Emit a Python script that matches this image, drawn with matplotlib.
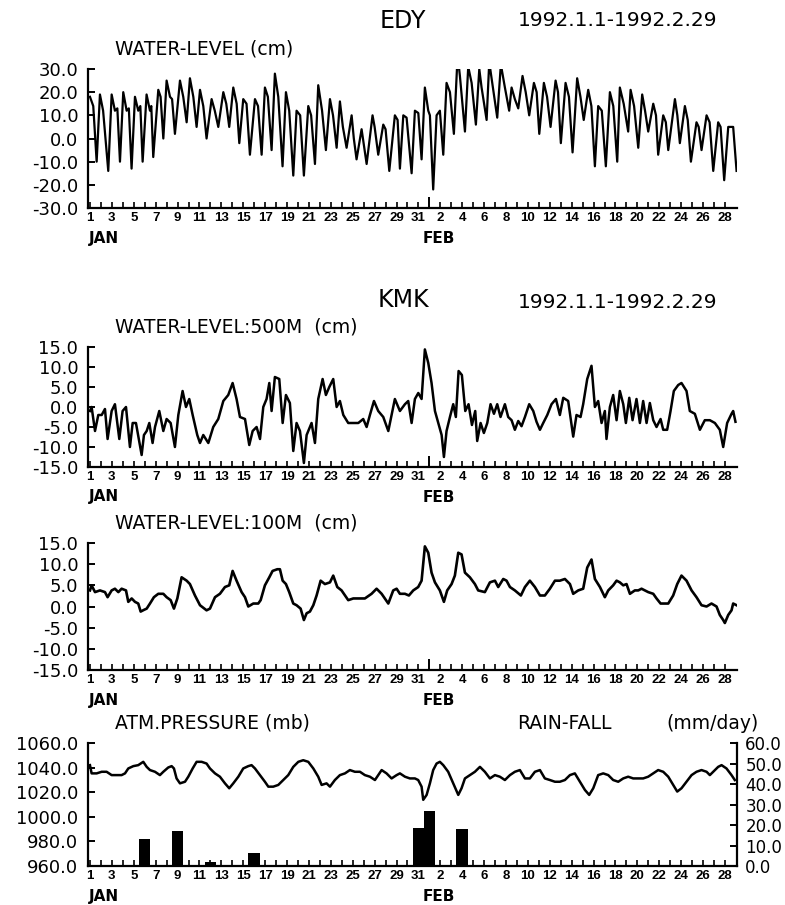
import numpy as np
import matplotlib
matplotlib.use("Agg")
import matplotlib.pyplot as plt
from matplotlib import font_manager
from matplotlib.ticker import FormatStrFormatter

W, H = 785, 905
names = {f.name for f in font_manager.fontManager.ttflist}
TICK_FONT = "Liberation Sans Narrow" if "Liberation Sans Narrow" in names else "Liberation Sans"
plt.rcParams['font.family'] = ['DejaVu Sans']

# time axis in days since 1992-01-01 00:00
edy_t = [0.00, 0.30, 0.61, 0.91, 1.20, 1.67, 1.98, 2.28, 2.50, 2.74, 3.04, 3.35, 3.55, 3.80,
         4.11, 4.41, 4.60, 4.81, 5.17, 5.48, 5.60, 5.78, 6.24, 6.45, 6.70, 7.00, 7.31, 7.50,
         7.76, 8.22, 8.52, 8.83, 9.13, 9.44, 9.74, 10.05, 10.35, 10.65, 11.11, 11.40, 11.72,
         12.18, 12.45, 12.72, 13.09, 13.40, 13.64, 14.00, 14.30, 14.61, 15.07, 15.35, 15.68,
         15.98, 16.25, 16.59, 16.89, 17.20, 17.59, 17.90, 18.20, 18.57, 18.87, 19.20, 19.54,
         19.94, 20.20, 20.55, 20.85, 21.20, 21.55, 21.92, 22.20, 22.53, 22.83, 23.10, 23.44,
         23.90, 24.10, 24.35, 24.81, 25.27, 25.81, 26.00, 26.33, 26.79, 27.00, 27.34, 27.85,
         28.10, 28.31, 28.62, 28.92, 29.38, 29.68, 29.99, 30.29, 30.59, 30.90, 31.05, 31.35,
         31.66, 31.96, 32.27, 32.57, 32.88, 33.24, 33.58, 33.79, 34.25, 34.55, 34.86, 35.25,
         35.56, 35.77, 36.23, 36.47, 36.80, 37.20, 37.53, 37.90, 38.29, 38.51, 38.81, 39.12,
         39.51, 39.80, 40.12, 40.55, 40.80, 41.04, 41.46, 41.75, 42.07, 42.53, 42.75, 43.01,
         43.44, 43.75, 44.08, 44.50, 44.80, 45.10, 45.51, 45.80, 46.12, 46.42, 46.75, 47.12,
         47.49, 47.80, 48.16, 48.40, 48.75, 49.16, 49.38, 49.70, 50.08, 50.44, 50.70, 50.99,
         51.45, 51.70, 51.90, 52.36, 52.60, 52.82, 53.43, 53.65, 53.88, 54.34, 54.60, 54.89,
         55.40, 55.60, 55.86, 56.32, 56.60, 56.93, 57.38, 57.60, 57.93, 58.30, 58.75, 59.06]
edy_cm = [18, 14, -10, 19, 12, -14, 19, 12, 13, -10, 20, 12, 13, -13,
          18, 12, 14, -10, 19, 12, 14, -8, 21, 18, 0, 25, 18, 17,
          2, 25, 18, 7, 26, 18, 5, 21, 14, 0, 17, 12, 5,
          20, 15, 5, 22, 15, -2, 17, 15, -7, 17, 14, -7,
          22, 18, -5, 28, 18, -12, 20, 12, -16, 12, 10, -16,
          14, 10, -11, 23, 12, -5, 17, 10, -4, 16, 5, -4,
          10, 0, -9, 4, -11, 10, 5, -7, 6, 4, -14, 10,
          8, -13, 10, 9, -15, 12, 11, -9, 22, 12, 10, -22,
          10, 12, -7, 24, 20, 2, 36, 27, 3, 31, 24, 6,
          30, 22, 8, 33, 22, 9, 32, 22, 12, 22, 17, 13,
          27, 20, 10, 24, 20, 2, 24, 18, 5, 25, 20, -2,
          24, 18, -6, 26, 18, 8, 21, 14, -12, 14, 12, -12,
          20, 14, -10, 22, 15, 3, 21, 14, -4, 19, 12, 3,
          15, 10, -7, 10, 7, -5, 17, 10, -2, 14, 8, -10,
          7, 5, -5, 10, 7, -14, 7, 5, -18, 5, 5, -14]

kmk500_t = [0.00, 0.15, 0.46, 0.76, 1.07, 1.37, 1.61, 1.98, 2.28, 2.68, 2.98, 3.29, 3.65,
            3.90, 4.20, 4.72, 4.93, 5.18, 5.42, 5.72, 5.94, 6.33, 6.70, 7.00, 7.37, 7.76,
            8.07, 8.46, 8.77, 9.07, 9.38, 9.80, 10.05, 10.35, 10.81, 11.26, 11.72, 12.18,
            12.63, 13.03, 13.39, 13.70, 14.16, 14.55, 14.86, 15.22, 15.53, 15.83, 16.13,
            16.38, 16.59, 16.89, 17.29, 17.60, 17.90, 18.26, 18.57, 18.87, 19.18, 19.54,
            19.79, 20.24, 20.55, 20.85, 21.25, 21.55, 21.86, 22.22, 22.53, 22.83, 23.14,
            23.59, 24.05, 24.51, 24.96, 25.27, 25.57, 25.94, 26.33, 26.79, 27.25, 27.85,
            28.31, 28.77, 29.07, 29.38, 29.68, 29.99, 30.29, 30.59, 30.90, 31.20, 31.51,
            31.81, 32.12, 32.33, 32.57, 32.88, 33.18, 33.42, 33.67, 33.97, 34.28, 34.58,
            34.89, 35.19, 35.37, 35.68, 35.98, 36.29, 36.59, 36.90, 37.20, 37.50, 37.90,
            38.20, 38.51, 38.81, 39.12, 39.42, 39.73, 40.12, 40.49, 40.79, 41.10, 41.40,
            41.77, 42.16, 42.56, 42.92, 43.23, 43.68, 44.14, 44.44, 44.81, 45.05, 45.42,
            45.81, 46.12, 46.42, 46.73, 47.03, 47.18, 47.49, 47.79, 48.10, 48.40, 48.71,
            48.95, 49.26, 49.56, 49.92, 50.23, 50.53, 50.84, 51.14, 51.45, 51.75, 52.12,
            52.36, 52.72, 53.03, 53.33, 53.73, 54.03, 54.49, 54.79, 55.25, 55.71, 56.16,
            56.62, 57.08, 57.53, 57.84, 58.20, 58.60, 58.75, 58.96]
kmk500_cm = [-1, 0, -6, -2, -2, -0.5, -8, -1, 0.7, -8, -1, 0, -10,
             -4, -4, -12, -7, -6, -4, -9, -5, -1, -6, -3, -4, -10,
             -2, 4, 0, 2, -2, -7, -9, -7, -9, -5, -3, 1.5,
             3, 6, 2, -2.5, -3, -9.5, -6, -5, -8, 0, 2,
             6, -1, 7.5, 7, -4, 3, 1, -11, -4, -6, -14,
             -7, -4, -9, 2, 7, 3, 5, 7, 0, 1.5, -2,
             -4, -4, -4, -3, -5, -2, 1.5, -1, -2.5, -6, 2,
             -1, 0.7, 1.5, -4, 2, 3.5, 2, 14.4, 11, 6, -1,
             -4, -7, -12.5, -6, -2.5, 0.7, -2.5, 9, 8, -1, 0.7,
             -4.5, -1, -8.5, -4, -6.5, -4, 0.7, -1.7, 0.7, -2.5, 0.7,
             -2.5, -3.3, -5.7, -3.5, -4.8, -2.5, 0.7, -1, -3.7, -5.7, -4,
             -2, 0.7, 2, -2, 2.3, 1.5, -7.4, -2, -2.5, 0.7, 7,
             10.3, 0, 1.5, -4, -1, -8, 0, 3, -3.3, 4, 0.7,
             -4, 2.3, -3.3, 2, -4, 1.5, -4, 1, -3.3, -5, -3,
             -5.7, -5.7, -1, 4, 5.5, 6, 4, -1, -1.7, -5.7, -3.3,
             -3.3, -4, -5.7, -10, -4, -1.7, -1, -3.7]

kmk100_t = [0.00, 0.15, 0.46, 0.91, 1.37, 1.61, 1.98, 2.28, 2.59, 2.89, 3.29, 3.50, 3.81,
            4.11, 4.41, 4.63, 4.93, 5.18, 5.48, 5.84, 6.24, 6.70, 7.00, 7.37, 7.67, 7.98,
            8.37, 8.83, 9.13, 9.59, 10.05, 10.65, 10.96, 11.42, 11.87, 12.33, 12.72, 13.03,
            13.39, 13.85, 14.16, 14.46, 14.92, 15.37, 15.59, 15.98, 16.38, 16.68, 17.11,
            17.35, 17.60, 17.90, 18.20, 18.57, 18.87, 19.24, 19.54, 19.79, 20.09, 20.40,
            20.70, 21.07, 21.46, 21.92, 22.22, 22.59, 22.98, 23.59, 24.05, 24.66, 25.11,
            25.72, 26.18, 26.64, 27.25, 27.70, 28.01, 28.31, 28.77, 29.13, 29.53, 29.98,
            30.29, 30.59, 30.90, 31.20, 31.51, 31.96, 32.33, 32.63, 33.03, 33.33, 33.64,
            33.94, 34.25, 34.70, 35.16, 35.46, 36.07, 36.53, 36.99, 37.29, 37.75, 38.05,
            38.36, 38.81, 39.36, 39.73, 40.18, 40.64, 41.10, 41.55, 42.01, 42.47, 42.92,
            43.38, 43.84, 44.14, 44.60, 45.05, 45.42, 45.81, 46.12, 46.58, 47.03, 47.34,
            47.79, 48.10, 48.40, 48.71, 49.01, 49.32, 49.77, 50.08, 50.38, 50.68, 50.99,
            51.45, 51.75, 52.12, 52.51, 52.82, 53.27, 53.64, 54.03, 54.49, 54.95, 55.40,
            55.86, 56.32, 56.77, 57.23, 57.53, 57.84, 57.99, 58.30, 58.60, 58.75, 59.06]
kmk100_cm = [3.8, 5.0, 3.4, 3.8, 3.4, 2.2, 3.8, 4.2, 3.4, 4.2, 3.8, 1.1, 1.9,
             1.1, 0.7, -1.2, -0.8, -0.5, 0.7, 2.2, 3.0, 3.0, 2.2, 1.5, -0.5, 1.9,
             6.9, 6.1, 5.3, 2.6, 0.3, -0.9, -0.5, 2.2, 3.0, 4.6, 5.0, 8.4,
             6.1, 3.4, 2.2, 0.0, 0.7, 0.7, 1.5, 5.0, 6.9, 8.4, 8.8,
             8.8, 6.1, 5.3, 3.4, 0.7, 0.3, -0.5, -3.2, -1.6, -1.2, 0.3,
             2.6, 6.1, 5.3, 5.7, 7.3, 4.6, 3.8, 1.5, 1.9, 1.9, 1.9,
             3.0, 4.2, 3.0, 0.7, 3.8, 4.2, 3.0, 3.0, 2.6, 3.8, 4.6,
             6.1, 14.2, 12.7, 8.0, 5.7, 3.8, 1.1, 3.8, 5.3, 7.3, 12.7,
             12.3, 8.0, 6.9, 5.3, 3.8, 3.4, 5.7, 6.1, 4.6, 6.5, 6.1,
             4.6, 3.8, 2.6, 4.6, 6.1, 4.6, 2.6, 2.6, 4.2, 6.1, 6.1,
             6.5, 5.3, 3.0, 3.8, 4.2, 9.2, 11.1, 6.5, 4.6, 2.2, 3.8,
             5.0, 6.1, 5.7, 5.0, 5.3, 3.0, 3.8, 3.8, 4.2, 3.8, 3.4,
             3.0, 1.9, 0.7, 0.7, 0.7, 2.6, 5.3, 7.3, 6.1, 3.8, 2.2,
             0.3, 0.0, 0.7, 0.0, -2.0, -3.2, -3.9, -2.0, -0.9, 0.7, 0.3]

pres_t = [0.00, 0.15, 0.61, 1.07, 1.52, 1.98, 2.44, 2.89, 3.20, 3.50, 3.96, 4.41, 4.87,
          5.18, 5.48, 5.94, 6.39, 6.70, 7.15, 7.46, 7.67, 7.91, 8.22, 8.68, 8.98, 9.38,
          9.74, 10.20, 10.65, 10.96, 11.42, 11.87, 12.33, 12.72, 13.09, 13.55, 14.00,
          14.46, 14.76, 15.07, 15.53, 15.98, 16.29, 16.74, 17.20, 17.66, 18.11, 18.57,
          19.03, 19.48, 19.94, 20.40, 20.85, 21.16, 21.61, 21.92, 22.37, 22.83, 23.29,
          23.74, 24.20, 24.66, 25.11, 25.57, 26.03, 26.33, 26.64, 27.09, 27.55, 28.01,
          28.31, 28.77, 29.22, 29.68, 29.98, 30.29, 30.44, 30.75, 31.05, 31.35, 31.66,
          31.96, 32.27, 32.72, 33.18, 33.64, 33.94, 34.25, 34.70, 35.16, 35.62, 36.07,
          36.53, 36.99, 37.44, 37.90, 38.36, 38.81, 39.27, 39.73, 40.18, 40.64, 41.10,
          41.55, 42.01, 42.47, 42.92, 43.38, 43.84, 44.29, 44.75, 45.21, 45.60, 45.97,
          46.42, 46.88, 47.34, 47.79, 48.25, 48.71, 49.16, 49.62, 50.08, 50.53, 50.99,
          51.45, 51.90, 52.36, 52.82, 53.27, 53.64, 54.03, 54.49, 54.95, 55.40, 55.86,
          56.32, 56.62, 57.08, 57.38, 57.69, 58.14, 58.60, 58.90]
pres_mb = [1042, 1035.3, 1035.3, 1036.6, 1036.6, 1033.9, 1033.9, 1033.9, 1035.3, 1039.3,
           1041.2, 1042, 1044.7, 1040.6, 1038, 1036.6, 1033.9, 1036.6, 1040.1, 1041.2,
           1039.3, 1031.2, 1027.2, 1028.5, 1032.6, 1039.3, 1044.7, 1044.7, 1043.3, 1039.3,
           1035.3, 1032.6, 1027.2, 1023.2, 1027.2, 1032.6, 1039.3, 1041.2, 1042, 1039.3,
           1033.9, 1028.5, 1024.5, 1024.5, 1025.9, 1029.9, 1033.9, 1040.6, 1044.7, 1046,
           1044.7, 1039.3, 1032.6, 1025.9, 1027.2, 1024.5, 1029.9, 1033.9, 1035.3, 1038,
           1036.6, 1036.6, 1033.9, 1032.6, 1029.9, 1033.9, 1038, 1035.3, 1031.2, 1033.9,
           1035.3, 1032.6, 1031.2, 1031.2, 1029.9, 1024.5, 1013.8, 1017.8, 1027.2, 1038,
           1043.3, 1044.7, 1042, 1036.6, 1027.2, 1017.8, 1023.2, 1031.2, 1033.9, 1036.6,
           1040.6, 1036.6, 1031.2, 1033.9, 1032.6, 1029.9, 1033.9, 1036.6, 1038, 1031.2,
           1031.2, 1036.6, 1038, 1031.2, 1029.9, 1028.5, 1028.5, 1029.9, 1033.9, 1035.3,
           1028.5, 1021.8, 1017.8, 1023.2, 1033.9, 1035.3, 1033.9, 1029.9, 1028.5, 1031.2,
           1032.6, 1031.2, 1031.2, 1031.2, 1032.6, 1035.3, 1038, 1036.6, 1032.6, 1025.9,
           1020.5, 1023.2, 1028.5, 1033.9, 1036.6, 1038, 1036.6, 1033.9, 1038, 1040.6,
           1042, 1039.3, 1033.9, 1029.9]

# daily rain-fall, day of year
rain_doy = [6, 9, 12, 16, 31, 32, 35]
rain_mm = [13, 17, 2, 6.5, 18.5, 27, 18]

XLIM = (-0.18, 59.1)
LEFT, RIGHT = 88, 737


def day_labels():
    labels = []
    for d in range(59):
        if d < 31:
            labels.append(str(d + 1) if (d + 1) % 2 == 1 else '')
        else:
            labels.append(str(d - 30) if (d - 30) % 2 == 0 else '')
    return labels


def make_axes(fig, top, bottom):
    rect = [LEFT / W, 1 - bottom / H, (RIGHT - LEFT) / W, (bottom - top) / H]
    return fig.add_axes(rect)


def style_axis(ax, ylim, yticks):
    ax.set_xlim(*XLIM)
    ax.set_ylim(*ylim)
    for s in ['top', 'right']:
        ax.spines[s].set_visible(False)
    for s in ['left', 'bottom']:
        ax.spines[s].set_linewidth(1.6)
    major = [d for d in range(59) if d != 31]
    labels = day_labels()
    ax.set_xticks(major)
    ax.set_xticklabels([labels[d] for d in major], fontfamily=TICK_FONT,
                       fontweight='bold', fontsize=9.5)
    ax.set_xticks([31], minor=True)
    ax.tick_params(axis='x', which='major', direction='in', length=4, width=1.2, pad=3)
    ax.tick_params(axis='x', which='minor', direction='in', length=8, width=1.4)
    ax.set_yticks(yticks)
    ax.yaxis.set_major_formatter(FormatStrFormatter('%.1f'))
    ax.tick_params(axis='y', direction='in', length=5, width=1.4, pad=7, labelsize=13)
    for x, s in [(-0.1, 'JAN'), (30.4, 'FEB')]:
        ax.annotate(s, xy=(x, 0), xycoords=('data', 'axes fraction'), xytext=(0, -30),
                    textcoords='offset pixels', ha='left', va='center',
                    fontsize=11, fontweight='bold')


def fig_text(fig, x, y, s, size, ha='left'):
    fig.text(x / W, 1 - y / H, s, fontsize=size, ha=ha, va='center')


fig = plt.figure(figsize=(W / 100, H / 100), dpi=100)
fig.patch.set_facecolor('white')

ax1 = make_axes(fig, 69, 208)
ax1.plot(edy_t, edy_cm, color='black', lw=1.6)
style_axis(ax1, (-30, 30), np.arange(-30, 31, 10))

ax2 = make_axes(fig, 347, 467)
ax2.plot(kmk500_t, kmk500_cm, color='black', lw=1.8)
style_axis(ax2, (-15, 15), np.arange(-15, 16, 5))

ax3 = make_axes(fig, 543, 670)
ax3.plot(kmk100_t, kmk100_cm, color='black', lw=1.9)
style_axis(ax3, (-15, 15), np.arange(-15, 16, 5))

ax4 = make_axes(fig, 743, 866)
ax4.plot(pres_t, pres_mb, color='black', lw=1.8)
style_axis(ax4, (960, 1060), np.arange(960, 1061, 20))
tw = ax4.twinx()
tw.bar([d - 1 for d in rain_doy], rain_mm, width=1.05, color='black')
tw.set_xlim(*XLIM)
tw.set_ylim(0, 60)
for s in ['top', 'left', 'bottom']:
    tw.spines[s].set_visible(False)
tw.spines['right'].set_linewidth(1.6)
tw.set_yticks(np.arange(0, 61, 10))
tw.yaxis.set_major_formatter(FormatStrFormatter('%.1f'))
tw.tick_params(axis='y', direction='in', length=5, width=1.4, pad=6, labelsize=12)

fig_text(fig, 380, 21, 'EDY', 17)
fig_text(fig, 518, 21, '1992.1.1-1992.2.29', 14.5)
fig_text(fig, 115, 49, 'WATER-LEVEL (cm)', 13.5)
fig_text(fig, 378, 300, 'KMK', 17)
fig_text(fig, 518, 302, '1992.1.1-1992.2.29', 14.5)
fig_text(fig, 115, 327, 'WATER-LEVEL:500M  (cm)', 13.5)
fig_text(fig, 115, 523, 'WATER-LEVEL:100M  (cm)', 13.5)
fig_text(fig, 115, 723, 'ATM.PRESSURE (mb)', 13.5)
fig_text(fig, 517, 723, 'RAIN-FALL', 13.5)
fig_text(fig, 666, 723, '(mm/day)', 13.5)

fig.savefig('out.png', dpi=100, facecolor='white')
